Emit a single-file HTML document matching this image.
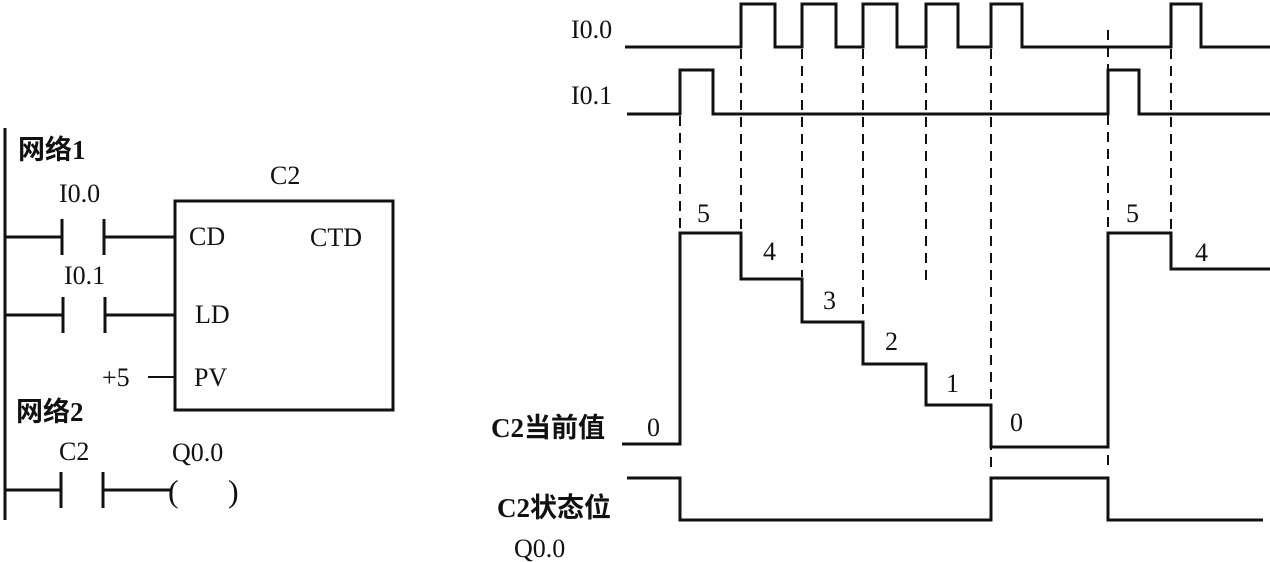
<!DOCTYPE html>
<html><head><meta charset="utf-8"><style>
html,body{margin:0;padding:0;background:#fff;}
svg{display:block;}
text{font-family:"Liberation Serif","Noto Serif CJK SC",serif;font-size:26px;fill:#111;}
.cn{font-family:"Liberation Serif","Noto Sans CJK SC",sans-serif;font-weight:bold;font-size:27px;}
</style></head><body>
<svg width="1270" height="562" viewBox="0 0 1270 562" xmlns="http://www.w3.org/2000/svg">
<g fill="none" stroke="#111" stroke-width="3">
<line x1="5" y1="128" x2="5" y2="520"/>
<polyline points="5,237 62,237"/><line x1="62" y1="219" x2="62" y2="255"/>
<line x1="104" y1="219" x2="104" y2="255"/><polyline points="104,237 175,237"/>
<polyline points="5,315 63,315"/><line x1="63" y1="297" x2="63" y2="333"/>
<line x1="105" y1="297" x2="105" y2="333"/><polyline points="105,315 175,315"/>
<line x1="148" y1="377" x2="175" y2="377" stroke-width="2"/>
<rect x="175" y="201" width="218" height="209"/>
<polyline points="5,490 61,490"/><line x1="61" y1="472" x2="61" y2="508"/>
<line x1="103" y1="472" x2="103" y2="508"/><polyline points="103,490 170,490"/>
<polyline points="625,47 741,47 741,4 775,4 775,47 802,47 802,4 836,4 836,47 863,47 863,4 897,4 897,47 926,47 926,4 958,4 958,47 991,47 991,4 1022,4 1022,47 1171,47 1171,4 1201,4 1201,47 1270,47"/>
<polyline points="627,114 680,114 680,70 713,70 713,114 1108,114 1108,70 1139,70 1139,114 1270,114"/>
<polyline points="622,444 680,444 680,233 741,233 741,279 802,279 802,322 863,322 863,364 926,364 926,405 991,405 991,447 1108,447 1108,233 1171,233 1171,269 1270,269"/>
<polyline points="627,478 680,478 680,520 991,520 991,478 1108,478 1108,520 1263,520"/>
</g>
<g fill="none" stroke="#111" stroke-width="2" stroke-dasharray="10,7">
<line x1="680" y1="116" x2="680" y2="230"/>
<line x1="741" y1="49" x2="741" y2="230"/>
<line x1="802" y1="49" x2="802" y2="277"/>
<line x1="863" y1="49" x2="863" y2="320"/>
<line x1="926" y1="49" x2="926" y2="280"/>
<line x1="991" y1="49" x2="991" y2="470"/>
<line x1="1108" y1="30" x2="1108" y2="470"/>
<line x1="1171" y1="49" x2="1171" y2="230"/>
</g>
<text class="cn" x="18" y="159">网络1</text>
<text x="270" y="184">C2</text>
<text x="59" y="202">I0.0</text>
<text x="64" y="284">I0.1</text>
<text x="189" y="245">CD</text>
<text x="310" y="246">CTD</text>
<text x="195" y="323">LD</text>
<text x="102" y="386">+5</text>
<text x="194" y="386">PV</text>
<text class="cn" x="16" y="421">网络2</text>
<text x="59" y="460">C2</text>
<text x="172" y="461">Q0.0</text>
<text x="168" y="502" style="font-size:32px">(</text>
<text x="228" y="502" style="font-size:32px">)</text>
<text x="571" y="38">I0.0</text>
<text x="571" y="104">I0.1</text>
<text x="697" y="222">5</text>
<text x="763" y="260">4</text>
<text x="823" y="309">3</text>
<text x="885" y="350">2</text>
<text x="946" y="392">1</text>
<text x="647" y="436">0</text>
<text x="1010" y="431">0</text>
<text x="1126" y="222">5</text>
<text x="1195" y="261">4</text>
<text class="cn" x="491" y="437">C2当前值</text>
<text class="cn" x="497" y="517">C2状态位</text>
<text x="514" y="557">Q0.0</text>
</svg>
</body></html>
